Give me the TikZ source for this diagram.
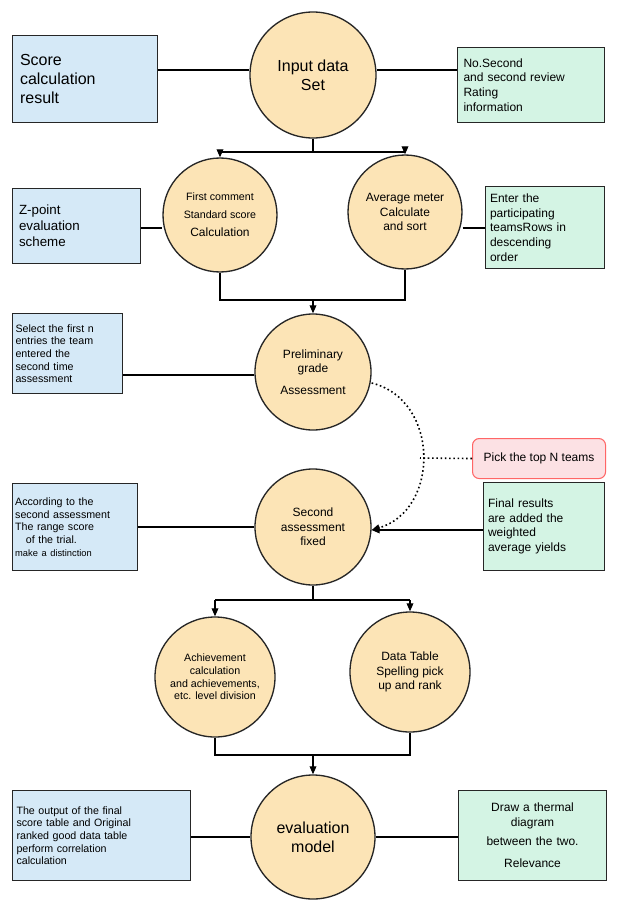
\documentclass[tikz,border=0pt]{standalone}
\usepackage{fontspec}
\setmainfont{Liberation Sans}
\usetikzlibrary{arrows.meta}
\definecolor{cfill}{HTML}{FCE4B6}
\definecolor{bfill}{HTML}{D5E9F7}
\definecolor{gfill}{HTML}{D4F4E4}
\definecolor{pfill}{HTML}{FCE1E4}
\begin{document}
\begin{tikzpicture}[x=0.75pt,y=-0.75pt,
 circ/.style={circle,draw=black!85,line width=1pt,fill=cfill,minimum size=#1,inner sep=1pt,align=center,font=\small},
 bbox/.style={draw=black!85,line width=0.8pt,fill=bfill,align=left,inner sep=3pt,anchor=north west},
 gbox/.style={draw=black!85,line width=0.8pt,fill=gfill,align=left,inner sep=3pt,anchor=north west},
 ln/.style={line width=0.9pt},
 ar/.style={line width=0.9pt,-{Triangle[length=6pt,width=5pt]}}]
\fill[white] (0,0) rectangle (633,921);
% row 1
\node[circ=126pt*0.75] (c1) at (313,75) {\large Input data\\[3pt]\large Set};
\node[bbox,minimum width=145*0.75pt,minimum height=87*0.75pt,text width=130*0.75pt,font=\large] (b1) at (12,35) {Score\\calculation\\result};
\node[gbox,minimum width=147*0.75pt,minimum height=75*0.75pt,text width=135*0.75pt,font=\small] (g1) at (457,47) {No.Second\\and second review\\Rating\\information};
\draw[ln] (b1.east|-0,70) coordinate (p1) -- (c1.west|-0,70);
\draw[ln] (c1.east|-0,70) -- (g1.west|-0,70);
% row 2
\node[circ=114pt*0.75,font=\footnotesize] (c2) at (220,215) {First comment\\[4pt]Standard score\\[4pt]\small Calculation};
\node[circ=114pt*0.75,font=\small] (c3) at (405,212) {Average meter\\Calculate\\and sort};
\coordinate (f1) at (313,152);
\draw[ln] (c1.south) -- (f1);
\draw[ln] (220,152) -- (405,152);
\draw[ar] (220,152) -- (c2.north);
\draw[ar] (405,152) -- (c3.north);
\node[bbox,minimum width=128*0.75pt,minimum height=75*0.75pt,text width=115*0.75pt,font=\normalsize] (b2) at (12,188) {Z-point\\evaluation\\scheme};
\node[gbox,minimum width=119*0.75pt,minimum height=82*0.75pt,text width=110*0.75pt,font=\small] (g2) at (485,186) {Enter the\\participating\\teamsRows in\\descending\\order};
\draw[ln] (b2.east|-0,228) -- (c2.west|-0,228);
\draw[ln] (c3.east|-0,228) -- (g2.west|-0,228);
% merge
\node[circ=116pt*0.75] (c4) at (313,372) {Preliminary\\grade\\[5pt]Assessment};
\draw[ln] (c2.south) -- (220,300) -- (405,300) -- (c3.south);
\draw[ar] (313,300) -- (c4.north);
\node[bbox,minimum width=110*0.75pt,minimum height=80*0.75pt,text width=104*0.75pt,font=\footnotesize,inner sep=2pt] (b3) at (12,313) {Select the first n\\entries the team\\entered the\\second time\\assessment};
\draw[ln] (b3.east|-0,375) -- (c4.west|-0,375);
% row second
\node[circ=116pt*0.75] (c5) at (313,527) {Second\\assessment\\fixed};
\node[draw=red!60,line width=0.8pt,fill=pfill,rounded corners=5pt,minimum width=133*0.75pt,minimum height=40*0.75pt,font=\small,anchor=north west] (pk) at (472,438) {Pick the top N teams};
\coordinate (k) at (420,458);
\draw[line width=1.2pt,dotted,-{Triangle[length=6pt,width=5pt]}] (c4.east|-0,383) .. controls (440,400) and (440,510) .. (c5.east|-0,530);
\draw[line width=1.2pt,dotted] (pk.west) -- (k);
\node[bbox,minimum width=123*0.75pt,minimum height=87*0.75pt,text width=120*0.75pt,font=\footnotesize,inner sep=2pt] (b4) at (12,483) {According to the\\second assessment\\The range score\\\quad of the trial.\\\scriptsize make a distinction};
\node[gbox,minimum width=121*0.75pt,minimum height=88*0.75pt,text width=112*0.75pt,font=\small] (g4) at (483,482) {Final results\\are added the\\weighted\\average yields};
\draw[ln] (b4.east|-0,527) -- (c5.west|-0,527);
\draw[ar] (g4.west|-0,530) -- (c5.east|-0,530);
% row 4
\node[circ=120pt*0.75,font=\footnotesize] (c6) at (215,677) {Achievement\\calculation\\and achievements,\\etc. level division};
\node[circ=120pt*0.75,font=\small] (c7) at (410,672) {Data Table\\Spelling pick\\up and rank};
\draw[ln] (c5.south) -- (313,600);
\draw[ln] (215,600) -- (410,600);
\draw[ar] (215,600) -- (c6.north);
\draw[ar] (410,600) -- (c7.north);
\node[circ=124pt*0.75,font=\large] (c8) at (313,837) {evaluation\\model};
\draw[ln] (c6.south) -- (215,755) -- (410,755) -- (c7.south);
\draw[ar] (313,755) -- (c8.north);
\node[bbox,minimum width=178*0.75pt,minimum height=90*0.75pt,text width=170*0.75pt,font=\footnotesize] (b5) at (12,790) {The output of the final\\score table and Original\\ranked good data table\\perform correlation\\calculation};
\node[gbox,minimum width=146*0.75pt,minimum height=90*0.75pt,text width=140*0.75pt,font=\small,align=center] (g5) at (458,790) {Draw a thermal\\diagram\\[3pt]between the two.\\[6pt]Relevance};
\draw[ln] (b5.east|-0,837) -- (c8.west|-0,837);
\draw[ln] (c8.east|-0,837) -- (g5.west|-0,837);
\end{tikzpicture}
\end{document}
